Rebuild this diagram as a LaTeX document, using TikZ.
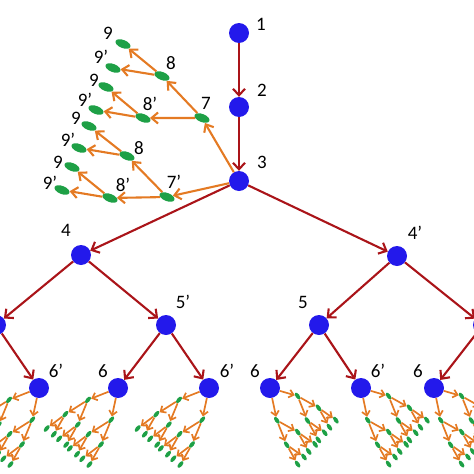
\documentclass[tikz,border=0pt]{standalone}
\usepackage{fontspec}
\setmainfont{Carlito}
\usetikzlibrary{shapes.geometric,arrows.meta}

\definecolor{nodeblue}{RGB}{35,25,235}
\definecolor{stemred}{RGB}{170,20,25}
\definecolor{twigorange}{RGB}{228,122,35}
\definecolor{seedgreen}{RGB}{30,160,70}

\tikzset{
  vertex/.style={circle,fill=nodeblue,minimum size=20pt,inner sep=0pt},
  num/.style={font=\fontsize{19}{21}\selectfont,inner sep=0pt},
  stem/.style={draw=stemred,line width=2.1pt,-{Straight Barb[length=6.5pt,width=12pt]}},
  bud/.style={ellipse,fill=seedgreen,minimum width=16pt,minimum height=8pt,inner sep=0pt,rotate=-22},
  twig/.style={draw=twigorange,line width=2.1pt,-{Straight Barb[length=6.5pt,width=11pt]}},
  seed/.style={ellipse,fill=seedgreen,minimum width=8pt,minimum height=4pt,inner sep=0pt},
  sprout/.style={draw=twigorange,line width=1.7pt,-{Straight Barb[length=4.5pt,width=8pt]}}
}

% small tree below a level-6 node: root, matrix, name, seed angle
\newcommand{\sprouts}[4]{%
  \begin{scope}[shift={(#1.center)},cm={#2,(0,0)}]
    \foreach \i/\ax/\ay in {a/-37/-63,b/-72/16} {
      \node[seed,rotate=#4] (#3\i) at (\ax,\ay) {};
      \draw[sprout] (#1) -- (#3\i);
      \foreach \j/\bx/\by in {a/-40/-42,b/-58/0} {
        \node[seed,rotate=#4] (#3\i\j) at ({\ax+\bx},{\ay+\by}) {};
        \draw[sprout] (#3\i) -- (#3\i\j);
        \foreach \k/\cx/\cy in {a/-38/-32,b/-48/-8} {
          \node[seed,rotate=#4] (#3\i\j\k) at ({\ax+\bx+\cx},{\ay+\by+\cy}) {};
          \draw[sprout] (#3\i\j) -- (#3\i\j\k);
        }
      }
    }
  \end{scope}}

\begin{document}
\begin{tikzpicture}[x=1pt,y=-1pt]
\useasboundingbox (0,0) rectangle (474,474);
\clip (0,0) rectangle (474,474);

% blue nodes
\node[vertex] (v1) at (239,33) {};
\node[vertex] (v2) at (239,107) {};
\node[vertex] (v3) at (239,181) {};
\node[vertex] (v4) at (81,255) {};
\node[vertex] (v4p) at (397,256) {};
\node[vertex] (v5a) at (-4,325) {};
\node[vertex] (v5p) at (166,325) {};
\node[vertex] (v5) at (319,325) {};
\node[vertex] (v5b) at (483,325) {};
\node[vertex] (v6a) at (39,388) {};
\node[vertex] (v6b) at (118,388) {};
\node[vertex] (v6c) at (209,388) {};
\node[vertex] (v6d) at (270,388) {};
\node[vertex] (v6e) at (361,388) {};
\node[vertex] (v6f) at (434,388) {};

\foreach \a/\b in {v1/v2,v2/v3,v3/v4,v3/v4p,v4/v5a,v4/v5p,v4p/v5,v4p/v5b,
  v5a/v6a,v5p/v6b,v5p/v6c,v5/v6d,v5/v6e,v5b/v6f}
  \draw[stem] (\a) -- (\b);

\node[num] (n1) at (261,24) {1};
\node[num] (n2) at (262,90) {2};
\node[num] (n3) at (262,162) {3};
\node[num] (n4) at (66,230) {4};
\node[num] (n4p) at (415,233) {4’};
\node[num] (n5p) at (183,302) {5’};
\node[num] (n5) at (303,302) {5};
\node[num] (n6a) at (56,371) {6’};
\node[num] (n6b) at (103,371) {6};
\node[num] (n6c) at (227,371) {6’};
\node[num] (n6d) at (255,371) {6};
\node[num] (n6e) at (378,371) {6’};
\node[num] (n6f) at (418,371) {6};

% top-left tree
\node[bud] (ta) at (202,118) {};
\node[bud] (tb) at (167,197) {};
\node[bud] (taa) at (162,76) {};
\node[bud] (tab) at (143,118) {};
\node[bud] (tba) at (127,156) {};
\node[bud] (tbb) at (110,198) {};
\node[bud] (taaa) at (123,44) {};
\node[bud] (taab) at (113,68) {};
\node[bud] (taba) at (106,87) {};
\node[bud] (tabb) at (96,110) {};
\node[bud] (tbaa) at (89,126) {};
\node[bud] (tbab) at (79,148) {};
\node[bud] (tbba) at (72,167) {};
\node[bud] (tbbb) at (62,190) {};

\foreach \a/\b in {v3/ta,v3/tb,ta/taa,ta/tab,tb/tba,tb/tbb,taa/taaa,taa/taab,
  tab/taba,tab/tabb,tba/tbaa,tba/tbab,tbb/tbba,tbb/tbbb}
  \draw[twig] (\a) -- (\b);

\node[num] (m7) at (206,103) {7};
\node[num] (m7p) at (174,182) {7’};
\node[num] (m8a) at (171,63) {8};
\node[num] (m8pa) at (150,104) {8’};
\node[num] (m8b) at (139,148) {8};
\node[num] (m8pb) at (123,185) {8’};
\node[num] (m9a) at (108,33) {9};
\node[num] (m9pa) at (101,57) {9’};
\node[num] (m9b) at (94,80) {9};
\node[num] (m9pb) at (85,100) {9’};
\node[num] (m9c) at (76,118) {9};
\node[num] (m9pc) at (68,140) {9’};
\node[num] (m9d) at (58,162) {9};
\node[num] (m9pd) at (50,183) {9’};

% small trees
\sprouts{v6a}{0.177,0.427,-0.372,0.063}{sa}{50}
\sprouts{v6b}{0.177,0.427,-0.372,0.063}{sb}{50}
\sprouts{v6c}{0.177,0.427,-0.372,0.063}{sc}{50}
\sprouts{v6d}{-0.170,0.422,0.338,0.120}{sd}{-55}
\sprouts{v6e}{-0.170,0.422,0.338,0.120}{se}{-55}
\sprouts{v6f}{-0.170,0.422,0.338,0.120}{sf}{-55}
\end{tikzpicture}
\end{document}
